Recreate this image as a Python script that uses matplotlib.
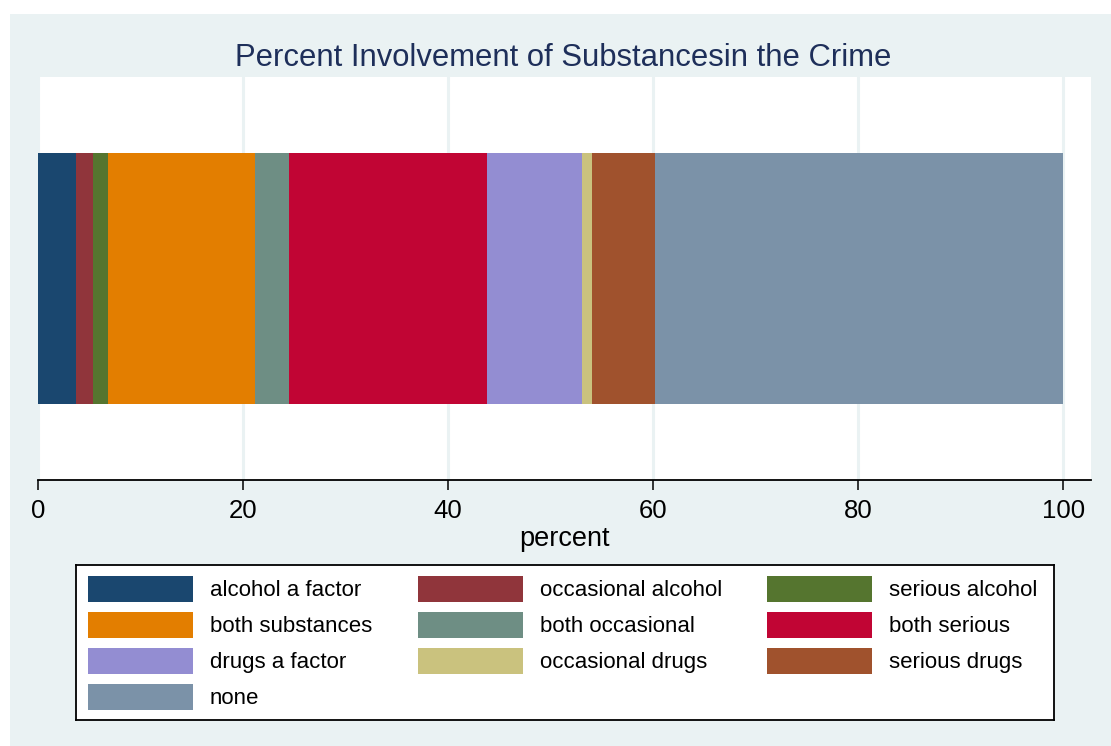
import matplotlib
matplotlib.use('Agg')
import matplotlib.pyplot as plt
from matplotlib.patches import Rectangle

plt.rcParams['font.family'] = ['Liberation Sans', 'DejaVu Sans']

# Data: share of cases (percent)
categories = ['alcohol a factor', 'occasional alcohol', 'serious alcohol',
              'both substances', 'both occasional', 'both serious',
              'drugs a factor', 'occasional drugs', 'serious drugs', 'none']
percents = [3.66, 1.66, 1.47, 14.35, 3.32, 19.34, 9.27, 0.98, 6.15, 39.80]
colors = ['#1a476f', '#90353b', '#55752f', '#e37e00', '#6e8e84',
          '#c10534', '#938dd2', '#cac27e', '#a0522d', '#7b92a8']
xticks = [0, 20, 40, 60, 80, 100]

W, H = 1111, 746
bg = '#eaf2f3'

fig = plt.figure(figsize=(W / 100, H / 100), dpi=100)
fig.patch.set_facecolor('white')
# light blue graph region
fig.patches.append(Rectangle((10 / W, 0), 1 - 10 / W, 1 - 14 / H,
                             transform=fig.transFigure, facecolor=bg,
                             edgecolor='none', zorder=-10))

def px_axes(x0, y0, x1, y1):
    # axes given by pixel box (top-left origin)
    return fig.add_axes([x0 / W, 1 - y1 / H, (x1 - x0) / W, (y1 - y0) / H])

ax = px_axes(38, 77, 1091, 480)
ax.set_facecolor('white')
ax.set_xlim(0, 102.7)
ax.set_ylim(0, 1)

# stacked horizontal bar
left = 0
for cat, val, col in zip(categories, percents, colors):
    ax.barh(0.5, val, left=left, height=0.625, color=col, label=cat, zorder=3)
    left += val

for t in xticks:
    ax.axvline(t, color=bg, lw=2.2, zorder=1)

for s in ['top', 'right', 'left']:
    ax.spines[s].set_visible(False)
ax.spines['bottom'].set_linewidth(1.3)
ax.set_yticks([])
ax.set_xticks(xticks)
ax.tick_params(axis='x', direction='out', length=7, width=1.1,
               labelsize=18.5, pad=7)
ax.set_xlabel('percent', fontsize=19.5, labelpad=2)

fig.text(563 / W, 1 - 58 / H, 'Percent Involvement of Substancesin the Crime',
         ha='center', va='center', fontsize=22.3, color='#1e2f5a')

# legend box, drawn in pixel coordinates
lax = px_axes(76, 565, 1054, 720)
lax.set_xlim(76, 1054)
lax.set_ylim(720, 565)
lax.set_xticks([])
lax.set_yticks([])
for s in lax.spines.values():
    s.set_linewidth(1.3)
    s.set_color('black')

col_x = [88, 418, 767]
row_y = [589, 625, 661, 697]
order = [[0, 3, 6, 9], [1, 4, 7], [2, 5, 8]]
for ci, idxs in enumerate(order):
    for ri, k in enumerate(idxs):
        lax.add_patch(Rectangle((col_x[ci], row_y[ri] - 13), 105, 26,
                                facecolor=colors[k], edgecolor='none'))
        lax.text(col_x[ci] + 122, row_y[ri] + 1.5, categories[k], fontsize=16,
                 va='center', ha='left')

fig.savefig('out.png', dpi=100)
